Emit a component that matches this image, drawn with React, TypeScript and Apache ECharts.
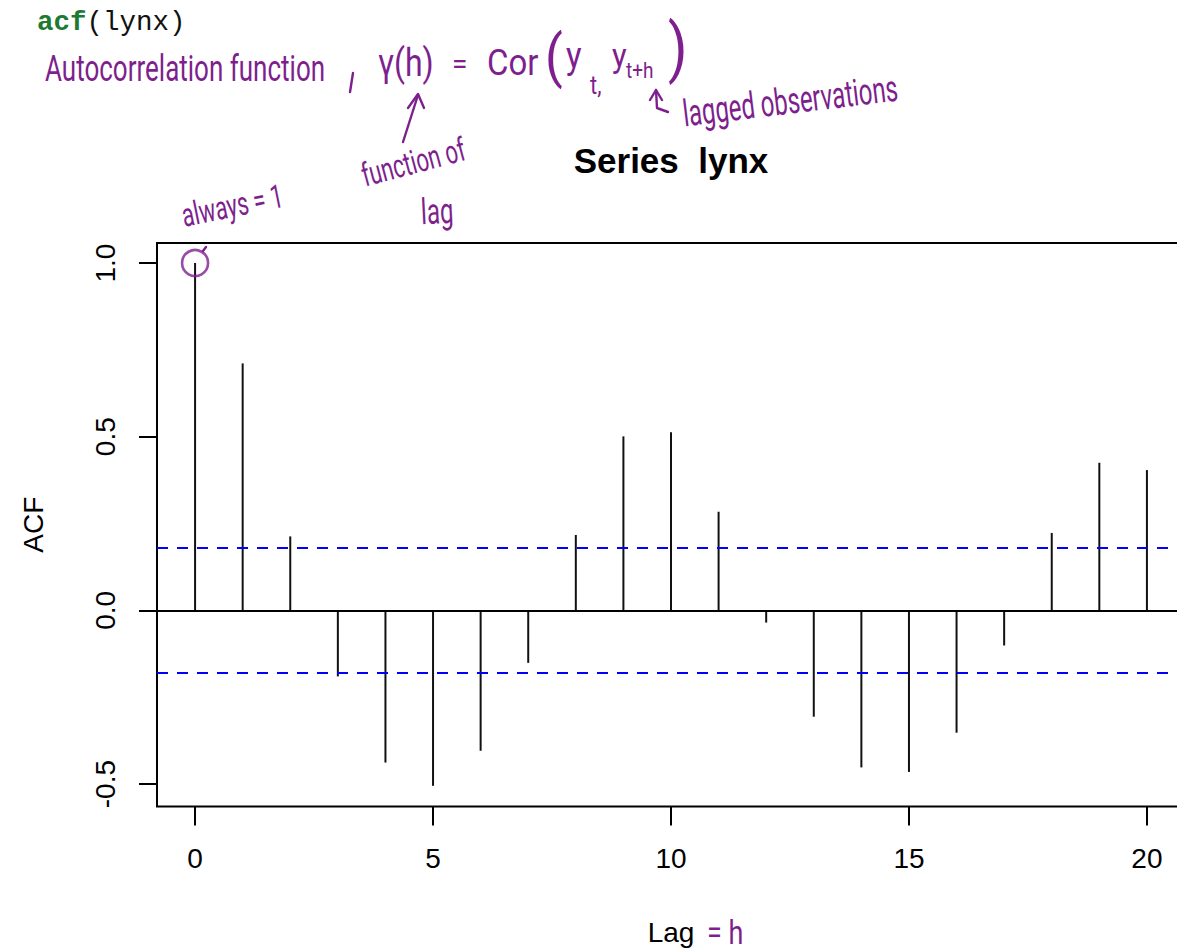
import React, { useEffect, useRef } from "react";
import * as echarts from "echarts";

// ---- data ----
const lags = [0, 1, 2, 3, 4, 5, 6, 7, 8, 9, 10, 11, 12, 13, 14, 15, 16, 17, 18, 19, 20];
const acfValues = [
  1.0, 0.711, 0.213, -0.19, -0.438, -0.505, -0.404, -0.151, 0.217, 0.501, 0.513,
  0.284, -0.035, -0.306, -0.452, -0.465, -0.352, -0.101, 0.223, 0.425, 0.404,
];
const confLimit = 0.1836;
const xTicks = [0, 5, 10, 15, 20];
const yTicks = [-0.5, 0, 0.5, 1.0];
const circledPoint = [0, 1.0];

const FONT = '"Liberation Sans", Arial, Helvetica, sans-serif';
const HAND = 'Roboto, "Noto Sans", sans-serif';
const PURPLE = "#7e1f8e";

function hw(text: string, x: number, y: number, size: number, rot = 0, sy = 1.45, extra: any = {}) {
  return {
    type: "text",
    x,
    y,
    rotation: rot,
    scaleY: sy,
    silent: true,
    style: {
      text,
      x: 0,
      y: 0,
      fill: PURPLE,
      fontSize: size,
      fontFamily: HAND,
      fontWeight: 400,
      textVerticalAlign: "middle",
      ...extra,
    },
  };
}

function pl(points: number[][], w = 2.4) {
  return {
    type: "polyline",
    silent: true,
    shape: { points },
    style: { stroke: PURPLE, lineWidth: w, fill: "none", lineJoin: "round", lineCap: "round" },
  };
}

export default function App() {
  const ref = useRef<HTMLDivElement>(null);
  useEffect(() => {
    if (!ref.current) return;
    const chart = echarts.init(ref.current, undefined, { renderer: "svg" });
    const option: any = {
      animation: false,
      backgroundColor: "#ffffff",
      grid: {
        show: true,
        left: 157,
        top: 243,
        width: 1028,
        height: 563.5,
        borderColor: "#000",
        borderWidth: 2,
        backgroundColor: "transparent",
      },
      xAxis: {
        type: "value",
        min: -0.8,
        max: 20.8,
        name: "Lag",
        nameLocation: "middle",
        nameGap: 112,
        nameTextStyle: { fontSize: 28, color: "#000", fontFamily: FONT },
        axisLine: { show: false, onZero: false },
        splitLine: { show: false },
        axisTick: {
          show: true,
          length: 19,
          customValues: xTicks,
          lineStyle: { color: "#000", width: 2 },
        },
        axisLabel: {
          customValues: xTicks,
          fontSize: 28,
          color: "#000",
          fontFamily: FONT,
          margin: 38,
        },
      },
      yAxis: {
        type: "value",
        min: -0.5645,
        max: 1.0576,
        name: "ACF",
        nameLocation: "middle",
        nameRotate: 90,
        nameGap: 110,
        nameTextStyle: { fontSize: 28, color: "#000", fontFamily: FONT },
        axisLine: { show: false, onZero: false },
        splitLine: { show: false },
        axisTick: {
          show: true,
          length: 18,
          customValues: yTicks,
          lineStyle: { color: "#000", width: 2 },
        },
        axisLabel: {
          customValues: yTicks,
          rotate: 90,
          fontSize: 28,
          color: "#000",
          fontFamily: FONT,
          margin: 38,
          formatter: (v: number) => v.toFixed(1),
        },
      },
      series: [
        {
          type: "custom",
          silent: true,
          data: lags.map((l, i) => [l, acfValues[i]]),
          renderItem: (params: any, api: any) => {
            const x = api.value(0);
            const y = api.value(1);
            const p0 = api.coord([x, 0]);
            const p1 = api.coord([x, y]);
            return {
              type: "line",
              shape: { x1: p0[0], y1: p0[1], x2: p1[0], y2: p1[1] },
              style: { stroke: "#111", lineWidth: 2 },
            };
          },
          markLine: {
            silent: true,
            symbol: "none",
            label: { show: false },
            data: [
              { yAxis: 0, lineStyle: { color: "#000", type: "solid", width: 2 } },
              { yAxis: confLimit, lineStyle: { color: "#0000ff", type: [11, 9], width: 2.2 } },
              { yAxis: -confLimit, lineStyle: { color: "#0000ff", type: [11, 9], width: 2.2 } },
            ],
          },
        },
        {
          type: "scatter",
          silent: true,
          symbol: "circle",
          symbolSize: 26,
          data: [circledPoint],
          itemStyle: { color: "rgba(0,0,0,0)", borderColor: PURPLE, borderWidth: 2.6 },
          z: 5,
        },
      ],
      graphic: [
        {
          type: "text",
          x: 37,
          y: 22,
          silent: true,
          style: {
            text: "{g|acf}{k|(lynx)}",
            textVerticalAlign: "middle",
            rich: {
              g: { fill: "#1e7a32", fontSize: 27.5, fontWeight: "bold", fontFamily: '"Liberation Mono", "DejaVu Sans Mono", monospace' },
              k: { fill: "#111", fontSize: 27.5, fontFamily: '"Liberation Mono", "DejaVu Sans Mono", monospace' },
            },
          },
        },
        {
          type: "text",
          x: 671,
          y: 160,
          silent: true,
          style: {
            text: "Series  lynx",
            fill: "#000",
            fontSize: 35,
            fontWeight: "bold",
            fontFamily: FONT,
            textAlign: "center",
            textVerticalAlign: "middle",
          },
        },
        hw("Autocorrelation function", 45, 68, 26),
        pl([[353, 73], [350, 92]]),
        hw("γ(h)", 378, 63, 32, 0, 1.2),
        hw("=", 452, 63, 28, 0, 1),
        hw("Cor", 487, 62, 33, 0, 1.1),
        hw("(", 545, 56, 52, 0, 1.1),
        hw("y", 566, 55, 33, 0, 1.1),
        hw("t,", 590, 85, 22, 0, 1.2),
        hw("y", 612, 55, 31, 0, 1.1),
        hw("t+h", 626, 70, 19, 0, 1.2),
        hw(")", 668, 48, 56, 0, 1.15),
        pl([[403, 142], [418, 95]]),
        pl([[408, 108], [418, 94], [424, 108]]),
        pl([[650, 100], [656, 90], [662, 100]]),
        pl([[656, 90], [657, 108], [668, 112]]),
        hw("lagged observations", 683, 114, 24, 0.12, 1.55),
        hw("function of", 362, 176, 22, 0.26, 1.5),
        hw("lag", 421, 212, 24, 0.05, 1.5),
        hw("always = 1", 182, 216, 22, 0.2, 1.5),
        pl([[203, 251], [206, 247]]),
        hw("= h", 707, 933, 27, 0, 1.2),
      ],
    };
    chart.setOption(option);
    return () => chart.dispose();
  }, []);
  return (
    <div
      style={{ position: "absolute", left: 0, top: 0, width: 1177, height: 952, overflow: "hidden" }}
    >
      <div ref={ref} style={{ width: 1200, height: 952 }} />
    </div>
  );
}
